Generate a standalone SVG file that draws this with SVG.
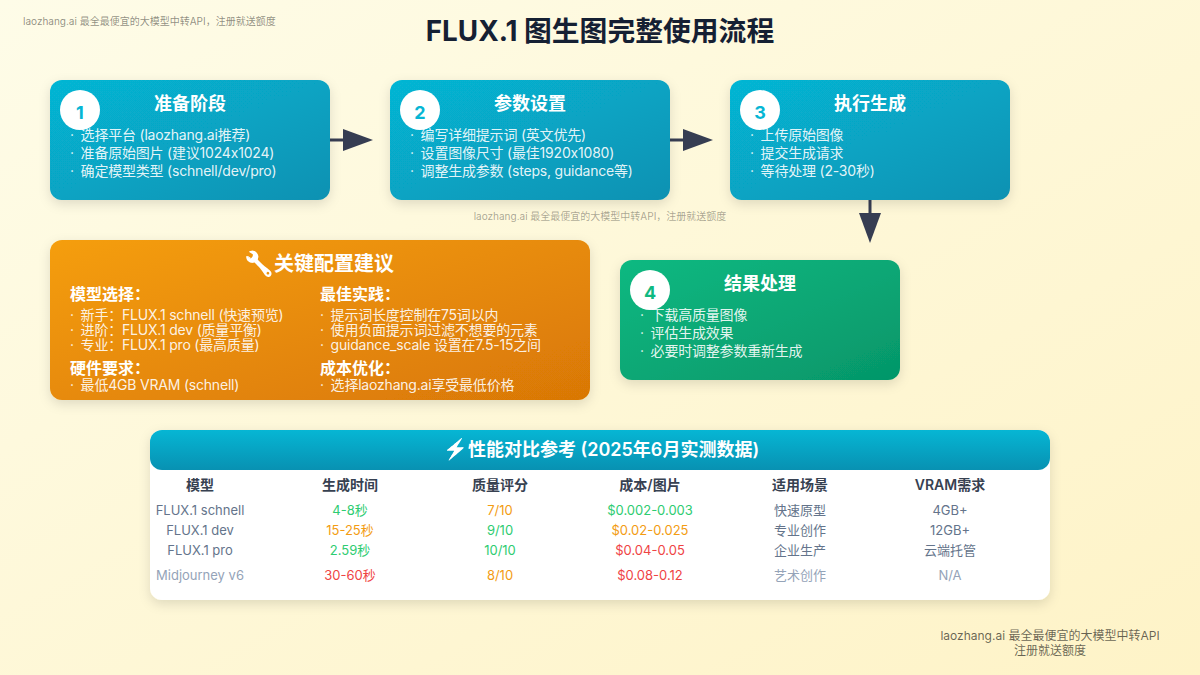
<svg xmlns="http://www.w3.org/2000/svg" width="1200" height="675" viewBox="0 0 1200 675">
<style>
text{font-family:Inter,"Noto Sans CJK SC",sans-serif}
.mid{text-anchor:middle}
.wm{font-size:10px;fill:#000;fill-opacity:.45}
.h{font-size:18px;font-weight:600;fill:#fff;text-anchor:middle}
.b{font-size:14px;fill:#fff;fill-opacity:.9;letter-spacing:-.2px}
.num{font-size:18px;font-weight:700;text-anchor:middle}
.sh{font-size:16px;font-weight:600;fill:#fff}
.th{font-size:14px;font-weight:600;fill:#374151;text-anchor:middle}
.td{font-size:13px;text-anchor:middle}
.g{fill:#2ecc71}.y{fill:#f39c12}.r{fill:#ef4444}.s{fill:#64748b}.l{fill:#94a3b8}
.card{filter:url(#sh)}
.lk{stroke:#363d52;stroke-width:3;fill:none;marker-end:url(#ah)}
.ico{filter:url(#white)}
</style>
<defs>
<linearGradient id="bg" x1="0" y1="0" x2="1" y2="1"><stop offset="0" stop-color="#fefce8"/><stop offset="1" stop-color="#fef3c7"/></linearGradient>
<linearGradient id="bl" x1="0" y1="0" x2="1" y2="1"><stop offset="0" stop-color="#06b6d4"/><stop offset="1" stop-color="#0891b2"/></linearGradient>
<linearGradient id="gr" x1="0" y1="0" x2="1" y2="1"><stop offset="0" stop-color="#10b981"/><stop offset="1" stop-color="#059669"/></linearGradient>
<linearGradient id="or" x1="0" y1="0" x2="1" y2="1"><stop offset="0" stop-color="#f59e0b"/><stop offset="1" stop-color="#d97706"/></linearGradient>
<linearGradient id="tb" x1="0" y1="0" x2="0" y2="1"><stop offset="0" stop-color="#06b6d4"/><stop offset="1" stop-color="#0891b2"/></linearGradient>
<filter id="sh" x="-10%" y="-10%" width="120%" height="125%"><feDropShadow dx="0" dy="4" stdDeviation="6" flood-color="#000" flood-opacity=".12"/></filter>
<filter id="white" x="-20%" y="-20%" width="140%" height="140%"><feColorMatrix type="matrix" values="0 0 0 0 1  0 0 0 0 1  0 0 0 0 1  0 0 0 1 0"/></filter>
<marker id="ah" markerUnits="userSpaceOnUse" markerWidth="30" markerHeight="22" refX="0" refY="11" orient="auto"><path d="M0 0L30 11L0 22Z" fill="#363d52"/></marker>
</defs>
<rect width="1200" height="675" fill="url(#bg)"/>
<text class="wm" x="23" y="25">laozhang.ai 最全最便宜的大模型中转API，注册就送额度</text>
<text x="600" y="41" class="mid" style="font-size:27.8px;font-weight:700;fill:#152033">FLUX.1 图生图完整使用流程</text>
<g id="connectors">
<line class="lk" x1="330" y1="140" x2="343" y2="140"/>
<line class="lk" x1="670" y1="140" x2="683" y2="140"/>
<line class="lk" x1="870" y1="200" x2="870" y2="213"/>
</g>
<g id="node1">
<rect class="card" x="50" y="80" width="280" height="120" rx="12" fill="url(#bl)"/>
<text class="h" x="190" y="110">准备阶段</text>
<text class="b" x="70" y="140">· <tspan dx="3">选择平台 (laozhang.ai推荐)</tspan></text>
<text class="b" x="70" y="158">· <tspan dx="3">准备原始图片 (建议1024x1024)</tspan></text>
<text class="b" x="70" y="176">· <tspan dx="3">确定模型类型 (schnell/dev/pro)</tspan></text>
<circle cx="80" cy="110" r="20" fill="#fff"/><text class="num" x="80" y="119" fill="#06b6d4">1</text>
</g>
<g id="node2">
<rect class="card" x="390" y="80" width="280" height="120" rx="12" fill="url(#bl)"/>
<text class="h" x="530" y="110">参数设置</text>
<text class="b" x="410" y="140">· <tspan dx="3">编写详细提示词 (英文优先)</tspan></text>
<text class="b" x="410" y="158">· <tspan dx="3">设置图像尺寸 (最佳1920x1080)</tspan></text>
<text class="b" x="410" y="176">· <tspan dx="3">调整生成参数 (steps, guidance等)</tspan></text>
<circle cx="420" cy="110" r="20" fill="#fff"/><text class="num" x="420" y="119" fill="#06b6d4">2</text>
</g>
<g id="node3">
<rect class="card" x="730" y="80" width="280" height="120" rx="12" fill="url(#bl)"/>
<text class="h" x="870" y="110">执行生成</text>
<text class="b" x="750" y="140">· <tspan dx="3">上传原始图像</tspan></text>
<text class="b" x="750" y="158">· <tspan dx="3">提交生成请求</tspan></text>
<text class="b" x="750" y="176">· <tspan dx="3">等待处理 (2-30秒)</tspan></text>
<circle cx="760" cy="110" r="20" fill="#fff"/><text class="num" x="760" y="119" fill="#06b6d4">3</text>
</g>
<text class="wm mid" x="600" y="220" style="fill-opacity:.35">laozhang.ai 最全最便宜的大模型中转API，注册就送额度</text>
<g id="node4">
<rect class="card" x="620" y="260" width="280" height="120" rx="12" fill="url(#gr)"/>
<text class="h" x="760" y="290">结果处理</text>
<text class="b" x="640" y="320">· <tspan dx="3">下载高质量图像</tspan></text>
<text class="b" x="640" y="338">· <tspan dx="3">评估生成效果</tspan></text>
<text class="b" x="640" y="356">· <tspan dx="3">必要时调整参数重新生成</tspan></text>
<circle cx="650" cy="290" r="20" fill="#fff"/><text class="num" x="650" y="299" fill="#10b981">4</text>
</g>
<g id="config">
<rect class="card" x="50" y="240" width="540" height="160" rx="12" fill="url(#or)"/>
<text class="ico" x="259" y="272" style="font-size:24px;text-anchor:middle">🔧</text>
<text x="274" y="271" style="font-size:20px;font-weight:600;fill:#fff">关键配置建议</text>
<text class="sh" x="70" y="300">模型选择：</text>
<text class="b" x="70" y="320">· <tspan dx="3">新手：FLUX.1 schnell (快速预览)</tspan></text>
<text class="b" x="70" y="335">· <tspan dx="3">进阶：FLUX.1 dev (质量平衡)</tspan></text>
<text class="b" x="70" y="350">· <tspan dx="3">专业：FLUX.1 pro (最高质量)</tspan></text>
<text class="sh" x="70" y="374">硬件要求：</text>
<text class="b" x="70" y="390">· <tspan dx="3">最低4GB VRAM (schnell)</tspan></text>
<text class="sh" x="320" y="300">最佳实践：</text>
<text class="b" x="320" y="320">· <tspan dx="3">提示词长度控制在75词以内</tspan></text>
<text class="b" x="320" y="335">· <tspan dx="3">使用负面提示词过滤不想要的元素</tspan></text>
<text class="b" x="320" y="350">· <tspan dx="3">guidance_scale 设置在7.5-15之间</tspan></text>
<text class="sh" x="320" y="374">成本优化：</text>
<text class="b" x="320" y="390">· <tspan dx="3">选择laozhang.ai享受最低价格</tspan></text>
</g>
<g id="table">
<rect class="card" x="150" y="430" width="900" height="170" rx="12" fill="#fff"/>
<path d="M162 430H1038a12 12 0 0 1 12 12V458a12 12 0 0 1-12 12H162a12 12 0 0 1-12-12V442a12 12 0 0 1 12-12Z" fill="url(#tb)"/>
<text class="ico" x="455" y="456" style="font-size:20px;text-anchor:middle">⚡</text>
<text x="468" y="456" style="font-size:18px;font-weight:600;fill:#fff">性能对比参考 (2025年6月实测数据)</text>
<text class="th" x="200" y="490">模型</text><text class="th" x="350" y="490">生成时间</text><text class="th" x="500" y="490">质量评分</text><text class="th" x="650" y="490">成本/图片</text><text class="th" x="800" y="490">适用场景</text><text class="th" x="950" y="490">VRAM需求</text>
<text class="td s" x="200" y="515">FLUX.1 schnell</text><text class="td g" x="350" y="515">4-8秒</text><text class="td y" x="500" y="515">7/10</text><text class="td g" x="650" y="515">$0.002-0.003</text><text class="td s" x="800" y="515">快速原型</text><text class="td s" x="950" y="515">4GB+</text>
<text class="td s" x="200" y="535">FLUX.1 dev</text><text class="td y" x="350" y="535">15-25秒</text><text class="td g" x="500" y="535">9/10</text><text class="td y" x="650" y="535">$0.02-0.025</text><text class="td s" x="800" y="535">专业创作</text><text class="td s" x="950" y="535">12GB+</text>
<text class="td s" x="200" y="555">FLUX.1 pro</text><text class="td g" x="350" y="555">2.59秒</text><text class="td g" x="500" y="555">10/10</text><text class="td r" x="650" y="555">$0.04-0.05</text><text class="td s" x="800" y="555">企业生产</text><text class="td s" x="950" y="555">云端托管</text>
<text class="td l" x="200" y="580">Midjourney v6</text><text class="td r" x="350" y="580">30-60秒</text><text class="td y" x="500" y="580">8/10</text><text class="td r" x="650" y="580">$0.08-0.12</text><text class="td l" x="800" y="580">艺术创作</text><text class="td l" x="950" y="580">N/A</text>
</g>
<text x="1050" y="640" class="mid" style="font-size:12px;fill:#000;fill-opacity:.6">laozhang.ai 最全最便宜的大模型中转API</text>
<text x="1050" y="655" class="mid" style="font-size:12px;fill:#000;fill-opacity:.6">注册就送额度</text>
</svg>
